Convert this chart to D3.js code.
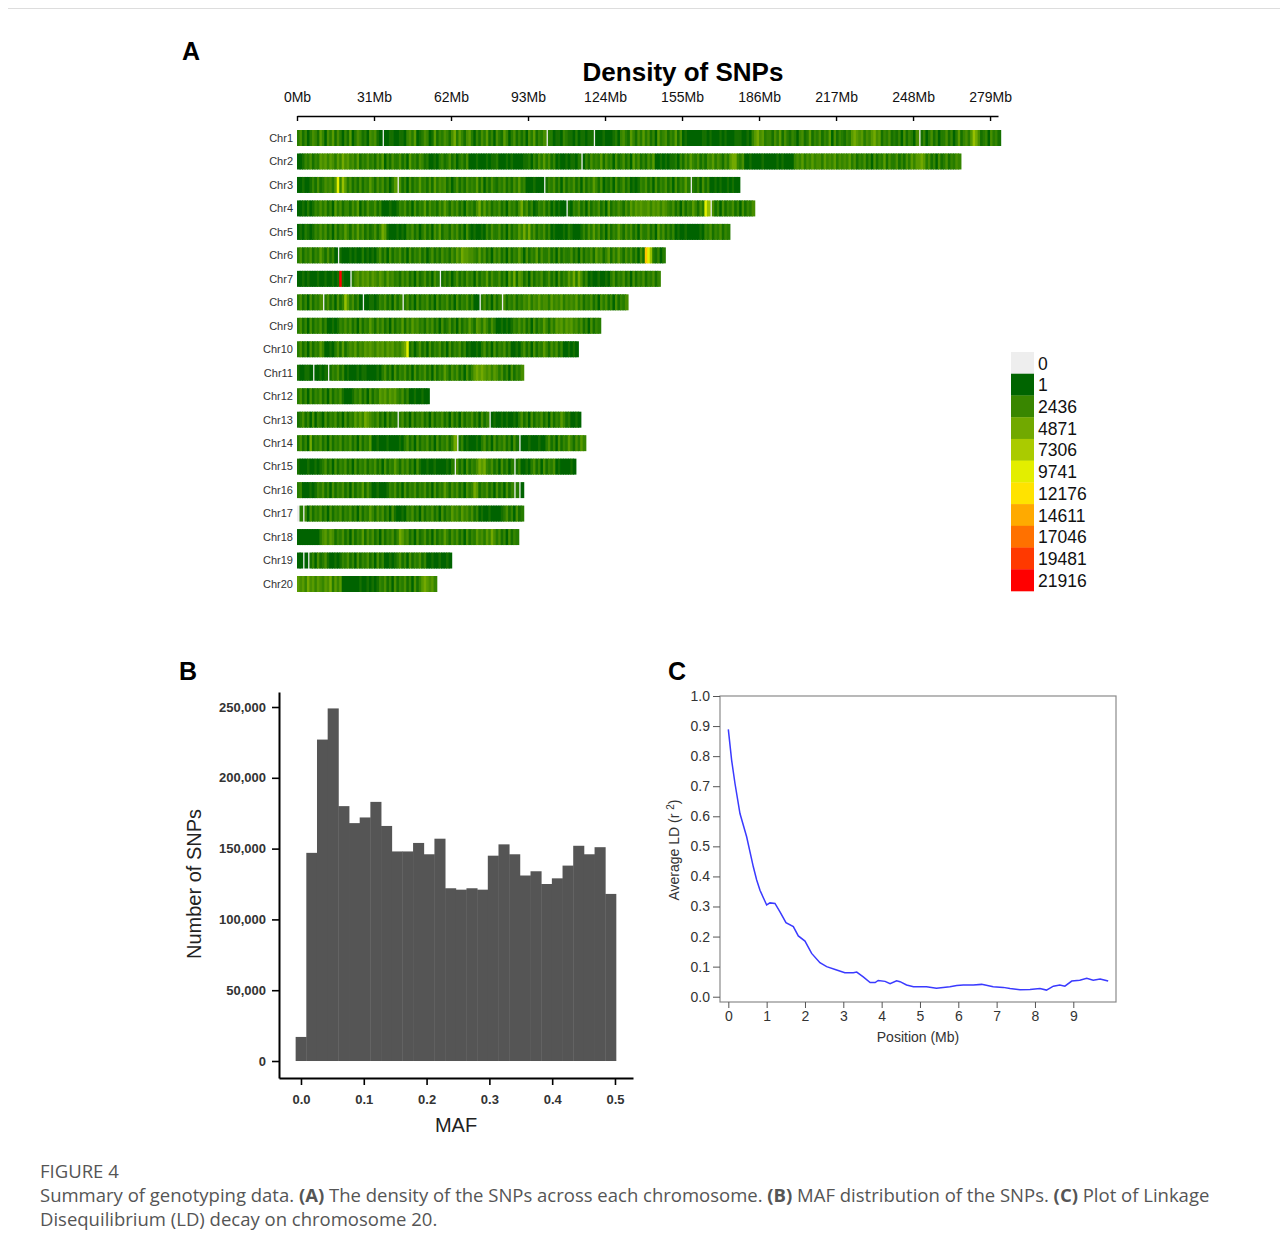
<!DOCTYPE html>
<html>
<head>
<meta charset="utf-8">
<script src="https://cdn.jsdelivr.net/npm/d3@7"></script>
<style>
body { margin: 0; background: #fff; }
svg { font-family: "Liberation Sans", Arial, sans-serif; }
.panel { font-size: 25px; font-weight: bold; fill: #000; }
.title { font-size: 26px; font-weight: bold; fill: #000; }
.axisA text { font-family: "Liberation Sans Narrow", "Liberation Sans", sans-serif; font-size: 14px; fill: #111; }
.axisA path, .axisA line { stroke: #000; stroke-width: 1.4; }
.chr { font-size: 11px; fill: #333; }
.leg { font-size: 17.5px; fill: #111; }
.axisB text { font-size: 13px; font-weight: bold; fill: #333; }
.axisB path { stroke: #000; stroke-width: 2; }
.axisB line { stroke: #000; stroke-width: 1.6; }
.axisC text { font-size: 14px; fill: #333; }
.axisC line { stroke: #555; }
.cap { font-family: "Open Sans", "Noto Sans", sans-serif; font-size: 18.5px; fill: #555; }
</style>
</head>
<body>
<svg width="1288" height="1249">
  <defs>
    <filter id="soft" x="-1%" y="0%" width="102%" height="100%">
      <feGaussianBlur stdDeviation="0.7 0"/>
    </filter>
  </defs>
</svg>
<script>
// ---- data ----
var chromosomes = ["Chr1","Chr2","Chr3","Chr4","Chr5","Chr6","Chr7","Chr8","Chr9","Chr10",
  "Chr11","Chr12","Chr13","Chr14","Chr15","Chr16","Chr17","Chr18","Chr19","Chr20"];

var binSize = 1; // Mb per density bin
// one character per bin, see levelValues
var densityBins = [
  "3524135426 4153625314 2613542315 4521011221 1221453612 3541262435 4257364256 3142536241 5326413524 2415362435 0331221432 2131221220 1112111231 4532642536 3524163452 4362512111 1112212111 2121112221 1214675634 4253625324 3145236243 5243615243 2436765635 4675624352 3241524315 0241352413 3524136245 3687523415 342",
  "1124352436 5646536475 6453624353 4253614253 3524163425 4231121342 3524134251 1121112122 3111212111 1223142536 3524121121 2213014253 4362534152 3524163524 2536112121 2231425364 3524254635 4253677435 1121111211 1112121111 4546354645 5364546354 5463524352 4152436253 3524253646 6763524152 3524354",
  "1121124252 354536y486 3524252436 4253524136 0524152436 3425263545 2413524253 4362514253 2435242536 3411121110 2435241524 3524152436 4251324152 3524121243 5241524352 4152436303 2415241121 21121211",
  "1121312435 3524163524 4253614253 3524111211 2435241524 3625342536 4253524153 4257363524 3524153425 7352412435 2413121102 1435241524 3524162435 4253646565 5646564654 3524152436 4253y80524 1524352415 2435",
  "1213212435 3524152436 4253635242 3524762111 2121435241 3524153624 4253524152 1211214253 3524152436 4747352435 2412111213 2111242536 3524152436 4253524153 3524163524 2412112111 1121435243 5243",
  "3524352436 4252410211 1212113121 2135241524 3524152435 2413524253 4253647665 5436352415 3524152436 4152436253 3524152433 5241524352 6452462536 4253524152 oy832413",
  "1121211121 1211212r21 1035646564 6546536453 4253524152 3524153024 2413524253 4152436253 3524163726 5241524352 3524152436 4737524121 1211213524 3524152435 243524",
  "3524152435 0352415248 6352410112 2124352415 2403524152 4352415243 5241524352 4110352415 2405243524 3546354645 5364546354 5463524352 4153524152 435",
  "3524152435 2411212435 3524152436 4253524152 4362536453 4253524152 3524152436 4265364253 1121212435 3524152436 4253656465 6453524152 43",
  "3524152436 4112135262 4546354656 5465646564 5467y24135 2415243524 1524352412 1121352415 2435241121 3524152436 4253524112 121",
  "2112210112 1202435241 2111212211 1121352415 2435241524 3524152436 4253524152 4676765646 5352415243 5",
  "3524152435 2415243521 1124352415 2436564656 4352411211 211",
  "2352415143 1524352415 2436464765 4352415243 0352415243 5241524352 4152415243 5241524012 1121211213 5241524352 4152436423 1121",
  "3524172435 2415243524 3524152436 1121112111 1213524152 4352415243 5247024121 1121352415 2435241520 1112111211 3524152436 425364",
  "2111211212 3524152435 2415243524 3524152436 4253524152 1121121111 2130524152 4357674352 4152413024 1121352415 2435121111 21",
  "3411121243 5241524352 4152436253 1121112435 2415243524 3524152436 4253524153 4762435241 5241524030 1",
  "0304152435 2415243524 3524152436 4253524152 1121435241 5243524152 4364536453 5241211211 1123524152 3",
  "1111111113 5646524352 4152436253 5241524352 4764524152 3524152436 4253524152 4364536475 352415243",
  "1101024152 3521121243 5241524352 4152411212 3524152435 2411211211 21",
  "6564756465 4657364611 1111121121 2124352415 2435241524 676564"
];
// SNP count per bin for each level character
var levelValues = {"0": 0, "1": 1, "2": 800, "3": 1600, "4": 2300, "5": 3000, "6": 3800,
  "7": 4900, "8": 6500, "9": 8500, "y": 9800, "o": 13500, "r": 21916};
var legendValues = [0, 1, 2436, 4871, 7306, 9741, 12176, 14611, 17046, 19481, 21916];
var mbTicks = [0, 31, 62, 93, 124, 155, 186, 217, 248, 279];

var mafCenters = [0.000,0.017,0.034,0.051,0.068,0.085,0.102,0.119,0.136,0.153,
  0.170,0.187,0.204,0.221,0.238,0.255,0.272,0.289,0.306,0.323,
  0.340,0.357,0.374,0.391,0.408,0.425,0.442,0.459,0.476,0.493];
var mafBinWidth = 0.017;
var mafCounts = [17000,147000,227000,249000,180000,168000,172000,183000,166000,148000,
  148000,154000,146000,157000,122000,121000,122000,121000,145000,153000,
  146000,131000,134000,125000,129000,138000,152000,146000,151000,118000];
var mafTicks = [0, 0.1, 0.2, 0.3, 0.4, 0.5];
var countTicks = [0, 50000, 100000, 150000, 200000, 250000];

var ldPos = [0,0.087,0.174,0.304,0.478,0.652,0.74,0.826,1.0,1.087,1.217,1.348,1.504,1.696,1.826,2.0,
  2.174,2.39,2.565,2.826,3.04,3.26,3.35,3.52,3.70,3.83,3.91,4.09,4.22,4.39,4.48,4.65,4.83,5.17,
  5.43,5.78,5.96,6.13,6.39,6.61,6.91,7.17,7.35,7.61,7.87,8.13,8.30,8.48,8.65,8.78,8.96,9.17,9.35,9.52,9.70,9.91];
var ldR2 = [0.889,0.786,0.709,0.609,0.532,0.432,0.388,0.354,0.305,0.312,0.310,0.282,0.246,0.233,0.202,0.185,
  0.144,0.113,0.100,0.089,0.080,0.080,0.082,0.066,0.047,0.047,0.054,0.051,0.043,0.053,0.050,0.039,0.033,0.033,
  0.028,0.033,0.037,0.039,0.039,0.041,0.033,0.031,0.027,0.023,0.024,0.027,0.022,0.035,0.039,0.035,0.052,0.055,0.061,0.055,0.059,0.052];
var ldTicksY = [0,0.1,0.2,0.3,0.4,0.5,0.6,0.7,0.8,0.9,1.0];
var ldTicksX = [0,1,2,3,4,5,6,7,8,9];

var svg = d3.select("svg");

// frame line at top
svg.append("line").attr("x1", 8).attr("x2", 1280).attr("y1", 8.5).attr("y2", 8.5)
  .attr("stroke", "#ddd");

// ---------- A : density of SNPs ----------
var xMb = d3.scaleLinear().domain([0, 282.2]).range([297, 998]);
var yChr = d3.scalePoint().domain(chromosomes).range([138, 584]);
var densityColor = d3.scaleLinear().domain([1, 10958.5, 21916])
  .range(["#006400", "#ffff00", "#ff0000"]);
function fillFor(v) { return v === 0 ? "#eeeeee" : densityColor(v); }

svg.append("text").attr("class", "panel").attr("x", 182).attr("y", 60).text("A");
svg.append("text").attr("class", "title").attr("x", 683).attr("y", 81)
  .attr("text-anchor", "middle").text("Density of SNPs");

svg.append("g").attr("class", "axisA").attr("transform", "translate(0,116)")
  .call(d3.axisTop(xMb).tickValues(mbTicks).tickFormat(d => d + "Mb")
    .tickSizeInner(-5).tickSizeOuter(0).tickPadding(14));

var gA = svg.append("g");
chromosomes.forEach(function(c, ci) {
  var bins = densityBins[ci].replace(/ /g, "").split("").map(function(ch, i) {
    return {i: i, v: levelValues[ch]};
  });
  // empty bins first, so the neighbouring bins overlap them a little
  bins.sort((a, b) => (a.v === 0 ? 0 : 1) - (b.v === 0 ? 0 : 1) || a.i - b.i);
  gA.append("g").attr("filter", "url(#soft)").selectAll("rect")
    .data(bins)
    .enter()
    .append("rect")
    .attr("x", d => xMb(d.i * binSize))
    .attr("width", d => xMb((d.i + 1) * binSize) - xMb(d.i * binSize) + (d.v === 0 ? 0 : 1.2))
    .attr("y", yChr(c) - 8)
    .attr("height", 16)
    .attr("fill", d => fillFor(d.v));
  gA.append("text").attr("class", "chr")
    .attr("x", 293).attr("y", yChr(c)).attr("dy", "0.35em")
    .attr("text-anchor", "end").text(c);
});

var legY = d3.scaleBand().domain(legendValues).range([352, 591]);
var leg = svg.append("g");
leg.selectAll("rect").data(legendValues).enter().append("rect")
  .attr("x", 1011).attr("width", 23)
  .attr("y", d => legY(d)).attr("height", legY.bandwidth() + 0.3)
  .attr("fill", d => fillFor(d));
leg.selectAll("text").data(legendValues).enter().append("text")
  .attr("class", "leg").attr("x", 1038)
  .attr("y", d => legY(d) + legY.bandwidth() / 2).attr("dy", "0.38em")
  .text(d => d);

// ---------- B : MAF histogram ----------
var xMaf = d3.scaleLinear().domain([-0.035, 0.5287]).range([279, 633]);
var yCount = d3.scaleLinear().domain([-12000, 260600]).range([1078, 692]);

svg.append("text").attr("class", "panel").attr("x", 179).attr("y", 680).text("B");

svg.append("g").selectAll("rect")
  .data(mafCounts)
  .enter()
  .append("rect")
  .attr("x", (d, i) => xMaf(mafCenters[i] - mafBinWidth / 2))
  .attr("width", (d, i) => xMaf(mafCenters[i] + mafBinWidth / 2) - xMaf(mafCenters[i] - mafBinWidth / 2) + 0.4)
  .attr("y", d => yCount(d))
  .attr("height", d => yCount(0) - yCount(d))
  .attr("fill", "#555555");

svg.append("g").attr("class", "axisB").attr("transform", "translate(279,0)")
  .call(d3.axisLeft(yCount).tickValues(countTicks).tickFormat(d3.format(","))
    .tickSizeInner(7).tickSizeOuter(0).tickPadding(6));
svg.append("g").attr("class", "axisB").attr("transform", "translate(0,1078)")
  .call(d3.axisBottom(xMaf).tickValues(mafTicks).tickFormat(d3.format(".1f"))
    .tickSizeInner(7).tickSizeOuter(0).tickPadding(10));

svg.append("text").attr("x", 456).attr("y", 1132).attr("text-anchor", "middle")
  .attr("font-size", 20).attr("fill", "#222").text("MAF");
svg.append("text").attr("transform", "translate(201,884) rotate(-90)")
  .attr("text-anchor", "middle").attr("font-size", 20).attr("fill", "#222")
  .text("Number of SNPs");

// ---------- C : LD decay ----------
var xPos = d3.scaleLinear().domain([-0.217, 10.114]).range([720, 1116]);
var yLD = d3.scaleLinear().domain([-0.0176, 1.0]).range([1002, 696]);

svg.append("text").attr("class", "panel").attr("x", 668).attr("y", 680).text("C");

svg.append("rect")
  .attr("x", xPos.range()[0]).attr("y", yLD.range()[1])
  .attr("width", xPos.range()[1] - xPos.range()[0])
  .attr("height", yLD.range()[0] - yLD.range()[1])
  .attr("fill", "none").attr("stroke", "#8a8a8a").attr("stroke-width", 1.2);

svg.append("g").attr("class", "axisC").attr("transform", "translate(720,0)")
  .call(d3.axisLeft(yLD).tickValues(ldTicksY).tickFormat(d3.format(".1f"))
    .tickSizeInner(7).tickSizeOuter(0).tickPadding(3))
  .call(g => g.select(".domain").remove());
svg.append("g").attr("class", "axisC").attr("transform", "translate(0,1002)")
  .call(d3.axisBottom(xPos).tickValues(ldTicksX)
    .tickSizeInner(6).tickSizeOuter(0).tickPadding(3))
  .call(g => g.select(".domain").remove());

var ldLine = d3.line().x((d, i) => xPos(ldPos[i])).y(d => yLD(d));
svg.append("path").datum(ldR2)
  .attr("d", ldLine)
  .attr("fill", "none").attr("stroke", "#3a3aff").attr("stroke-width", 1.5);

svg.append("text").attr("x", 918).attr("y", 1042).attr("text-anchor", "middle")
  .attr("font-size", 14).attr("fill", "#333").text("Position (Mb)");
var yl = svg.append("text").attr("transform", "translate(679,850) rotate(-90)")
  .attr("text-anchor", "middle").attr("font-size", 14).attr("fill", "#333");
yl.append("tspan").text("Average LD (r ");
yl.append("tspan").attr("font-size", 10).attr("dy", -5).text("2");
yl.append("tspan").attr("dy", 5).text(")");

// ---------- caption ----------
svg.append("text").attr("class", "cap").attr("x", 40).attr("y", 1178).text("FIGURE 4");
var cap1 = svg.append("text").attr("class", "cap").attr("x", 40).attr("y", 1202);
cap1.append("tspan").text("Summary of genotyping data. ");
cap1.append("tspan").attr("font-weight", "bold").text("(A)");
cap1.append("tspan").text(" The density of the SNPs across each chromosome. ");
cap1.append("tspan").attr("font-weight", "bold").text("(B)");
cap1.append("tspan").text(" MAF distribution of the SNPs. ");
cap1.append("tspan").attr("font-weight", "bold").text("(C)");
cap1.append("tspan").text(" Plot of Linkage");
svg.append("text").attr("class", "cap").attr("x", 40).attr("y", 1226)
  .text("Disequilibrium (LD) decay on chromosome 20.");
</script>
</body>
</html>
